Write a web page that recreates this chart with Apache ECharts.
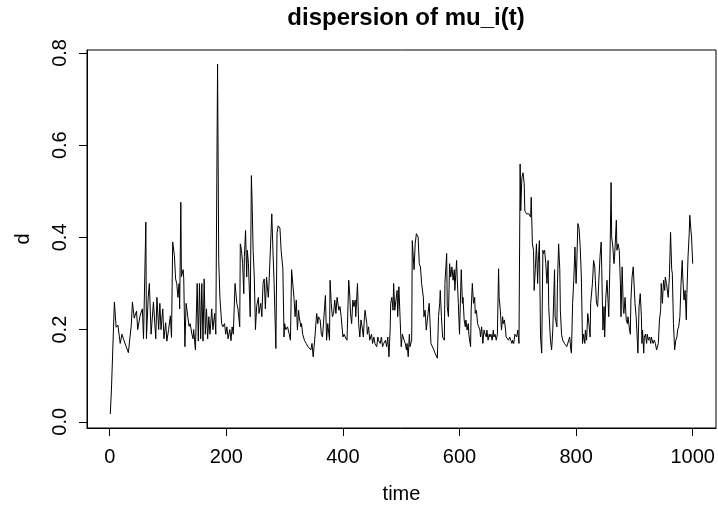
<!DOCTYPE html>
<html>
<head>
<meta charset="utf-8">
<script src="https://cdn.jsdelivr.net/npm/echarts@6/dist/echarts.min.js"></script>
<style>
html,body{margin:0;padding:0;background:#fff;}
#chart{width:718px;height:511px;}
</style>
</head>
<body>
<div id="chart"></div>
<script>
const chartTitle = 'dispersion of mu_i(t)';
const xName = 'time';
const yName = 'd';
const xTicks = [0, 200, 400, 600, 800, 1000];
const yTicks = [0.0, 0.2, 0.4, 0.6, 0.8];

const time = [1,3,8,11,14,18,21,24,32,37,39,42,46,48,52,56,58,62,63,66,68,71,75,79,81,84,86,88,91,93,96,98,101,104,106,108,111,113,115,117,119,120,122,123,126,127,129,131,134,136,138,141,143,144,147,150,152,154,156,158,160,162,164,166,168,170,172,175,177,180,182,185,187,189,192,194,197,199,201,203,206,208,210,212,215,218,220,223,224,226,228,230,231,233,235,236,238,241,243,244,246,248,250,252,255,256,259,261,263,265,267,269,272,273,276,278,280,282,285,287,289,292,294,297,299,300,302,305,308,310,312,314,316,318,320,322,324,325,328,329,331,334,337,340,342,345,347,349,352,355,357,358,361,363,365,368,370,372,374,377,378,380,382,384,386,388,390,393,395,397,400,402,404,407,410,412,413,415,417,419,421,422,425,427,429,431,433,435,437,438,441,442,444,446,449,451,453,455,458,460,461,464,466,468,470,473,475,477,479,481,482,484,486,487,489,491,493,494,496,498,500,502,505,507,509,510,512,514,515,518,519,522,524,526,529,531,533,535,538,539,541,543,546,548,549,551,554,556,558,560,562,564,566,567,569,571,574,575,578,579,581,583,585,587,589,591,592,595,596,598,600,603,605,606,608,610,611,613,615,616,619,620,622,624,626,627,629,631,633,635,636,638,640,642,644,646,647,649,651,652,654,656,658,659,661,663,665,667,668,670,672,674,675,677,679,680,682,684,686,688,690,691,693,695,698,700,702,704,705,707,709,711,712,715,717,719,722,723,725,727,728,730,732,734,735,737,739,741,743,744,746,748,750,752,753,756,758,760,763,764,767,768,770,772,773,775,777,780,782,784,787,789,791,792,794,796,798,800,801,803,805,807,809,811,813,815,816,818,820,822,824,825,828,830,832,833,835,837,839,841,843,844,846,848,849,851,853,855,856,858,860,861,863,865,866,869,870,872,874,876,877,879,881,882,884,886,888,889,891,893,894,896,898,900,901,903,905,906,908,910,912,913,914,916,917,919,921,922,924,926,928,929,932,934,936,938,941,943,945,946,948,950,952,953,955,957,958,960,962,964,965,967,969,971,973,974,976,978,980,982,983,985,987,989,990,992,994,995,997,998,1000];

const d = [0.017,0.071,0.26,0.205,0.21,0.17,0.19,0.178,0.15,0.21,0.26,0.225,0.24,0.20,0.23,0.245,0.18,0.433,0.18,0.27,0.30,0.19,0.26,0.18,0.27,0.20,0.257,0.20,0.245,0.18,0.215,0.175,0.20,0.23,0.183,0.39,0.36,0.31,0.30,0.27,0.30,0.245,0.476,0.315,0.33,0.31,0.163,0.257,0.228,0.207,0.213,0.19,0.18,0.20,0.156,0.30,0.175,0.30,0.18,0.30,0.175,0.31,0.19,0.245,0.18,0.228,0.19,0.245,0.20,0.235,0.19,0.776,0.35,0.27,0.213,0.206,0.213,0.19,0.206,0.18,0.20,0.176,0.206,0.19,0.30,0.257,0.245,0.206,0.386,0.372,0.343,0.278,0.358,0.415,0.314,0.372,0.343,0.228,0.534,0.49,0.372,0.314,0.20,0.25,0.27,0.235,0.257,0.228,0.30,0.31,0.245,0.314,0.27,0.293,0.386,0.451,0.372,0.30,0.159,0.41,0.425,0.42,0.372,0.332,0.184,0.213,0.20,0.206,0.19,0.177,0.33,0.332,0.27,0.228,0.264,0.199,0.242,0.228,0.206,0.213,0.19,0.177,0.17,0.163,0.166,0.156,0.17,0.141,0.184,0.235,0.213,0.228,0.221,0.19,0.184,0.184,0.274,0.177,0.213,0.177,0.307,0.257,0.228,0.235,0.264,0.235,0.27,0.242,0.25,0.228,0.184,0.19,0.184,0.177,0.307,0.27,0.235,0.213,0.264,0.25,0.264,0.228,0.30,0.213,0.184,0.221,0.206,0.184,0.228,0.242,0.213,0.19,0.206,0.177,0.19,0.17,0.184,0.17,0.163,0.184,0.177,0.17,0.184,0.163,0.17,0.177,0.163,0.184,0.141,0.199,0.257,0.27,0.242,0.30,0.242,0.264,0.285,0.228,0.293,0.228,0.163,0.19,0.177,0.17,0.156,0.17,0.141,0.19,0.163,0.177,0.393,0.33,0.386,0.408,0.401,0.343,0.336,0.30,0.27,0.228,0.242,0.199,0.235,0.257,0.26,0.17,0.17,0.156,0.149,0.149,0.138,0.228,0.257,0.285,0.228,0.184,0.177,0.30,0.365,0.25,0.228,0.343,0.314,0.336,0.307,0.33,0.285,0.35,0.314,0.257,0.19,0.33,0.257,0.27,0.221,0.206,0.221,0.199,0.213,0.19,0.163,0.242,0.30,0.257,0.27,0.235,0.242,0.213,0.206,0.199,0.184,0.206,0.17,0.199,0.19,0.184,0.199,0.177,0.19,0.184,0.19,0.177,0.199,0.184,0.19,0.177,0.19,0.332,0.27,0.242,0.199,0.228,0.213,0.221,0.199,0.184,0.184,0.177,0.184,0.177,0.17,0.177,0.17,0.19,0.184,0.199,0.17,0.559,0.458,0.53,0.54,0.516,0.458,0.451,0.455,0.451,0.444,0.487,0.386,0.372,0.285,0.33,0.386,0.30,0.343,0.393,0.184,0.149,0.372,0.365,0.372,0.343,0.30,0.35,0.25,0.177,0.156,0.199,0.33,0.228,0.206,0.30,0.386,0.33,0.242,0.19,0.177,0.17,0.166,0.163,0.159,0.184,0.156,0.149,0.257,0.307,0.379,0.30,0.336,0.43,0.42,0.38,0.314,0.17,0.19,0.17,0.199,0.177,0.235,0.213,0.184,0.257,0.30,0.35,0.336,0.307,0.257,0.25,0.307,0.358,0.39,0.33,0.199,0.25,0.184,0.27,0.307,0.257,0.228,0.343,0.519,0.401,0.379,0.343,0.358,0.437,0.372,0.386,0.372,0.30,0.228,0.336,0.242,0.235,0.27,0.221,0.213,0.228,0.206,0.19,0.264,0.314,0.336,0.34,0.257,0.228,0.177,0.149,0.25,0.278,0.228,0.17,0.199,0.149,0.184,0.19,0.17,0.19,0.177,0.184,0.17,0.184,0.17,0.177,0.17,0.156,0.17,0.221,0.242,0.30,0.257,0.307,0.285,0.314,0.30,0.30,0.27,0.314,0.411,0.33,0.322,0.213,0.156,0.177,0.184,0.199,0.206,0.228,0.30,0.35,0.314,0.264,0.285,0.221,0.278,0.358,0.408,0.448,0.415,0.401,0.343];

// R-style 4% axis padding
const tMin = Math.min(...time), tMax = Math.max(...time);
const dMin = Math.min(...d), dMax = Math.max(...d);
const tPad = 0.04 * (tMax - tMin), dPad = 0.04 * (dMax - dMin);

const FONT = '"Liberation Sans", Arial, Helvetica, sans-serif';
const chart = echarts.init(document.getElementById('chart'), null, {renderer: 'canvas'});
chart.setOption({
  animation: false,
  backgroundColor: '#ffffff',
  title: {
    text: chartTitle,
    left: 401,
    top: 1,
    textAlign: 'center',
    textStyle: {fontFamily: FONT, fontSize: 24, fontWeight: 'bold', color: '#000'}
  },
  grid: {
    left: 87, right: 2, top: 50, bottom: 83,
    show: true, borderColor: '#000', borderWidth: 1, backgroundColor: 'transparent'
  },
  xAxis: {
    type: 'value',
    min: tMin - tPad, max: tMax + tPad,
    name: xName, nameLocation: 'middle', nameGap: 56,
    nameTextStyle: {fontFamily: FONT, fontSize: 20, color: '#000'},
    axisLine: {show: true, onZero: false, lineStyle: {color: '#000', width: 1}},
    axisTick: {show: true, inside: false, length: 8, customValues: xTicks, lineStyle: {color: '#000', width: 1}},
    axisLabel: {customValues: xTicks, margin: 19, fontFamily: FONT, fontSize: 20, color: '#000',
      formatter: v => String(v)},
    splitLine: {show: false}
  },
  yAxis: {
    type: 'value',
    min: dMin - dPad, max: dMax + dPad,
    name: yName, nameLocation: 'middle', nameGap: 54,
    nameTextStyle: {fontFamily: FONT, fontSize: 20, color: '#000'},
    axisLine: {show: true, onZero: false, lineStyle: {color: '#000', width: 1}},
    axisTick: {show: true, inside: false, length: 8, customValues: yTicks, lineStyle: {color: '#000', width: 1}},
    axisLabel: {customValues: yTicks, rotate: 90, margin: 17, fontFamily: FONT, fontSize: 20, color: '#000',
      formatter: v => v.toFixed(1)},
    splitLine: {show: false}
  },
  series: [{
    type: 'line',
    data: time.map((t, i) => [t, d[i]]),
    symbol: 'none',
    lineStyle: {color: '#000', width: 1},
    itemStyle: {color: '#000'}
  }]
});
</script>
</body>
</html>
